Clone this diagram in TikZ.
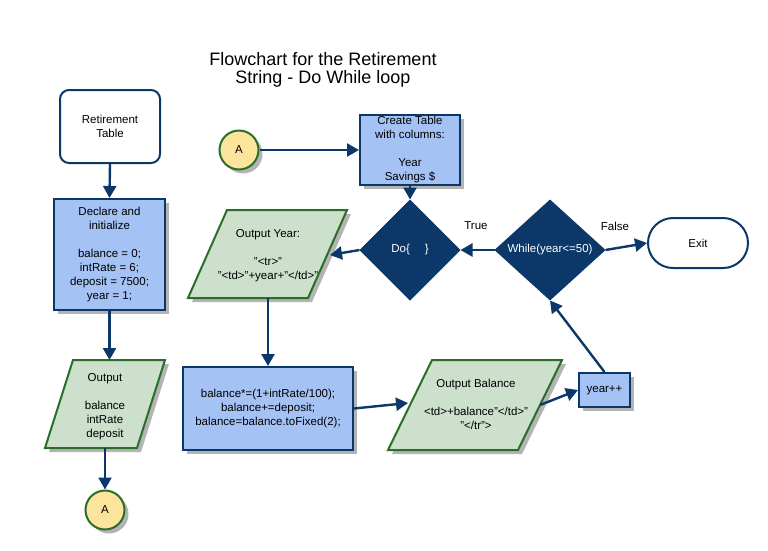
\documentclass[tikz,border=0pt]{standalone}
\usepackage{fontspec}
\setmainfont{Liberation Sans}
\usetikzlibrary{shapes.geometric,shapes.misc,arrows.meta,shadows}
\definecolor{navy}{HTML}{0B3868}
\definecolor{boxblue}{HTML}{A4C2F4}
\definecolor{pgreen}{HTML}{CCE0CC}
\definecolor{dgreen}{HTML}{2A6E2A}
\definecolor{cyellow}{HTML}{FDE49C}
\definecolor{shadowgray}{HTML}{B4B4B4}
\begin{document}
\begin{tikzpicture}[x=1pt,y=-1pt,
  txt/.style={font=\fontsize{11.5}{14}\selectfont, align=center, text=black},
  shad/.style={drop shadow={shadow xshift=4pt,shadow yshift=-4pt,fill=shadowgray,opacity=1}},
  bluebox/.style={rectangle, draw=navy, line width=2pt, fill=boxblue, shad, txt, inner sep=0pt},
  greenpar/.style={draw=dgreen, line width=2pt, fill=pgreen, shad},
  decision/.style={diamond, draw=navy, fill=navy, line width=1pt, inner sep=0pt, txt, text=white},
  connector/.style={circle, draw=dgreen, line width=2pt, fill=cyellow, shad, txt, minimum size=39pt, inner sep=0pt},
  terminal/.style={draw=navy, line width=2pt, fill=white, txt, inner sep=0pt},
  conn/.style={draw=navy, line width=2.4pt, -{Triangle[length=12pt,width=13pt]}},
  lbl/.style={txt}
]
\useasboundingbox[fill=white] (0,0) rectangle (768,550);

% title
\node[font=\fontsize{18}{18.5}\selectfont, align=center] (title) at (323,70) {Flowchart for the Retirement\\String - Do While loop};

% left column
\node[terminal, rectangle, rounded corners=9pt, minimum width=100pt, minimum height=73pt] (rt) at (110,126.5) {Retirement\\Table};
\node[bluebox, minimum width=111pt, minimum height=111pt] (decl) at (109.5,254.5) {\raisebox{4pt}{\begin{tabular}{@{}c@{}}Declare and\\initialize\\[14pt]balance = 0;\\intRate = 6;\\deposit = 7500;\\year = 1;\end{tabular}}};

\draw[greenpar] (73,360) -- (165,360) -- (137,448) -- (45,448) -- cycle;
\node[txt] (out1) at (105,407) {Output\\[14pt]balance\\intRate\\deposit};
\coordinate (out1top) at (109.5,360);
\coordinate (out1bot) at (105,448);

\node[connector] (a2) at (105,510) {A};

% top row
\node[connector] (a1) at (239,150) {A};
\node[bluebox, minimum width=100pt, minimum height=70pt] (ct) at (410,150) {Create Table\\with columns:\\[14pt]Year\\Savings \$};

\node[decision, minimum width=100pt, minimum height=100pt] (do) at (410,250) {Do\{\hspace{1.3em}\}};
\node[decision, minimum width=110pt, minimum height=100pt] (wh) at (550,250) {While(year<=50)};
\node[terminal, rounded rectangle, minimum width=100pt, minimum height=50pt] (exit) at (698,243) {Exit};

\node[lbl] (true) at (476,226) {True};
\node[lbl] (false) at (615,226) {False};

% output year
\draw[greenpar] (227,210) -- (347,210) -- (308,298) -- (188,298) -- cycle;
\node[txt] (oy) at (268,256) {Output Year:\\[14pt]"<tr>"\\"<td>"+year+"</td>"};
\coordinate (oyright) at (330,255);
\coordinate (oybot) at (268,298);

% balance box
\node[bluebox, minimum width=170pt, minimum height=83pt] (bal) at (268,408.5) {balance*=(1+intRate/100);\\balance+=deposit;\\balance=balance.toFixed(2);};

% output balance
\draw[greenpar] (432,360) -- (562,360) -- (518,450) -- (388,450) -- cycle;
\node[txt] (ob) at (476,404) {Output Balance\\[14pt]<td>+balance"</td>"\\"</tr">};
\coordinate (obleft) at (408,403);
\coordinate (obright) at (540,405);

\node[bluebox, minimum width=51pt, minimum height=34pt] (yr) at (604.5,390) {year++};

% connectors
\draw[conn] (rt.south) -- (decl.north);
\draw[conn] (decl.south) -- (out1top);
\draw[conn] (out1bot) -- (a2.north);
\draw[conn] (a1.east) -- (ct.west);
\draw[conn] (ct.south) -- (do.north);
\draw[conn] (do.west) -- (oyright);
\draw[conn] (oybot) -- (bal.north);
\draw[conn] (bal.east) -- (obleft);
\draw[conn] (obright) -- (yr.west);
\draw[conn] (yr.north) -- (wh.south);
\draw[conn] (wh.west) -- (do.east);
\draw[conn] (wh.east) -- (exit.west);
\end{tikzpicture}
\end{document}
